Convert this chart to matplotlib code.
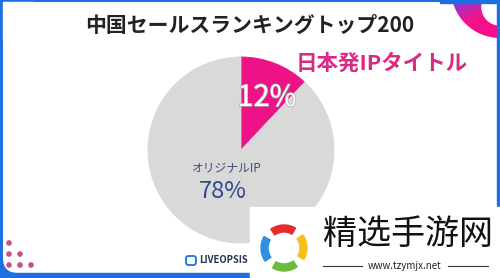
import matplotlib
matplotlib.use('Agg')
import numpy as np
import matplotlib.pyplot as plt
from matplotlib.patches import Rectangle, FancyBboxPatch, Circle, Wedge
from matplotlib.colors import LinearSegmentedColormap
import matplotlib.patheffects as pe

plt.rcParams['font.family'] = ['Noto Sans CJK JP', 'DejaVu Sans']

# data
labels = ['日本発IPタイトル', 'オリジナルIP', 'その他']
shares = [12, 78, 10]
slice_colors = ['#ee1289', '#d9d9d9', '#d9d9d9']
title = '中国セールスランキングトップ200'

W, H = 500, 278
blue = '#1d6fe4'

def Y(py):
    return H - py

fig = plt.figure(figsize=(5, 2.78), dpi=100)
ax = fig.add_axes([0, 0, 1, 1])
ax.set_xlim(0, W)
ax.set_ylim(0, H)
ax.axis('off')

# frame
ax.add_patch(Rectangle((0, 0), W, H, color=blue, zorder=0))
ax.add_patch(FancyBboxPatch((3, Y(273)), 494, 271, boxstyle='round,pad=0,rounding_size=15',
                            fc='white', ec='none', zorder=0.5))
ax.add_patch(Rectangle((3, Y(40)), 30, 38, color='white', zorder=0.6))

# top right decoration, gradient ring
ring = Circle((500, Y(-11)), 49, transform=ax.transData)
cmap = LinearSegmentedColormap.from_list('g', ['#5a4fe0', '#b52ab8', '#f2138b', '#f4108a'])
gx, gy = np.meshgrid(np.linspace(0, 1, 60), np.linspace(0, 1, 60))
grad = np.clip(0.55 * gx + 0.9 * gy, 0, 1)
im = ax.imshow(grad, cmap=cmap, extent=[450, 500, Y(40), Y(0)], origin='upper',
               zorder=1, aspect='auto', interpolation='bilinear')
im.set_clip_path(ring)
ax.add_patch(Circle((500, Y(7)), 18, color='white', zorder=1.2))
ax.add_patch(Rectangle((440, Y(3)), 60, 3, color=blue, zorder=1.3))
ax.add_patch(Rectangle((497, Y(205)), 3, 205, color=blue, zorder=1.3))

# dots bottom left
for row in range(4):
    for col in range(row + 1):
        ax.add_patch(Circle((9 + 11 * col, Y(243 + 11 * row)), 2.1, color='#c8508f', zorder=1))
ax.add_patch(Rectangle((0, 0), 250, 5, color=blue, zorder=1.5))

# pie
wedges, _ = ax.pie(shares, colors=slice_colors, startangle=90, counterclock=False,
                   center=(241, Y(150)), radius=93, frame=True)
for w in wedges:
    w.set_edgecolor(w.get_facecolor())
    w.set_linewidth(0.6)
ax.set_xlim(0, W)
ax.set_ylim(0, H)
ax.set_aspect('auto')

ax.text(250, Y(25), title, ha='center', va='center', fontsize=15,
        fontweight='bold', color='#222222')
ax.text(382, Y(63), labels[0], ha='center', va='center', fontsize=15.5,
        fontweight='bold', color='#d92a84')
ax.text(267, Y(98), f'{shares[0]}%', ha='center', va='center', fontsize=21,
        color='white', path_effects=[pe.withStroke(linewidth=1.0, foreground='#b0b0b0')])
ax.text(227, Y(169), labels[1], ha='center', va='center', fontsize=8.5, color='#3d4e7a')
ax.text(223, Y(191), f'{shares[1]}%', ha='center', va='center', fontsize=17, color='#2d4a88')

# brand
ax.add_patch(FancyBboxPatch((186, Y(265)), 10, 9, boxstyle='round,pad=0,rounding_size=2.5',
                            fc='white', ec=blue, lw=1.3, zorder=2))
ax.text(199, Y(260), 'LIVEOPSIS', ha='left', va='center', fontsize=6.8,
        fontweight='bold', color='#26324f')

# watermark box
ax.add_patch(Rectangle((250, 0), 250, Y(207), color='white', zorder=3))
for a, c in zip([60, 150, 240, 330], ['#e62b2b', '#2f8fe0', '#6cbb3c', '#f2c21b']):
    ax.add_patch(Wedge((284, Y(248)), 23, a, a + 65, width=7, color=c, zorder=3.5))
ax.text(408, Y(234), '精选手游网', ha='center', va='center', fontsize=24.5,
        color='#111111', family=['Noto Sans CJK SC', 'DejaVu Sans'], zorder=4)
ax.text(405, Y(266), 'www.tzymjx.net', ha='center', va='center', fontsize=7,
        color='#222222', zorder=4)
ax.plot([323, 362], [Y(266), Y(266)], color='#333333', lw=0.8, zorder=4)
ax.plot([448, 488], [Y(266), Y(266)], color='#333333', lw=0.8, zorder=4)

fig.savefig('out.png', dpi=100)
